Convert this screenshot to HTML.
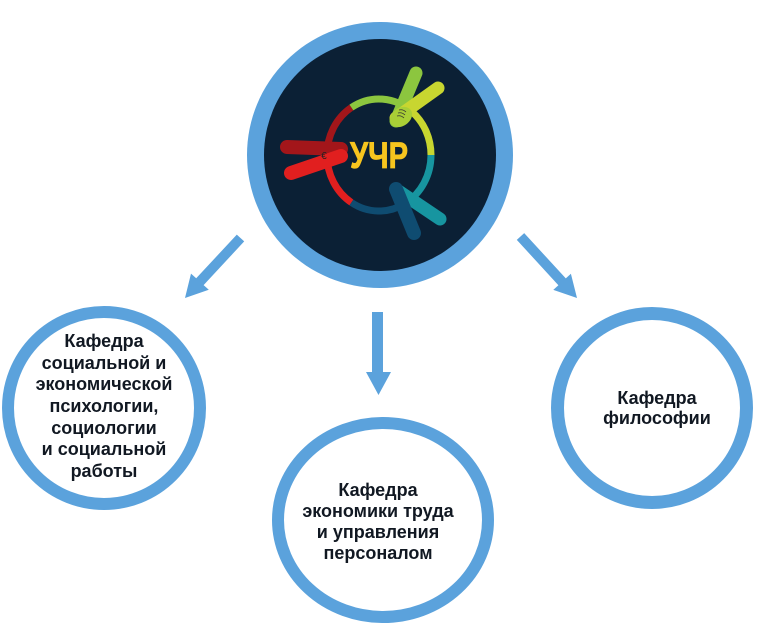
<!DOCTYPE html>
<html>
<head>
<meta charset="utf-8">
<style>
  html, body { margin: 0; padding: 0; background: #ffffff; }
  svg { display: block; }
  .t { font-family: "Liberation Sans", "Noto Sans CJK SC", sans-serif; font-weight: bold; font-size: 18px; fill: #111822; }
</style>
</head>
<body>
<svg width="760" height="625" viewBox="0 0 760 625" xmlns="http://www.w3.org/2000/svg">
  <rect width="760" height="625" fill="#ffffff"/>

  <!-- top circle -->
  <circle cx="380" cy="155" r="133" fill="#5ba2dc"/>
  <circle cx="380" cy="155" r="116" fill="#0b2035"/>

  <!-- logo ring segments -->
  <g fill="none" stroke-width="7" stroke-linecap="butt">
    <path d="M351.4,107.5 A52,56 0 0 0 327,155" stroke="#a3161a"/>
    <path d="M327,155 A52,56 0 0 0 351.4,202.5" stroke="#e11f1f"/>
    <path d="M351.4,202.5 A52,56 0 0 0 405,203.5" stroke="#0f4c71"/>
    <path d="M405,203.5 A52,56 0 0 0 431,155" stroke="#1795a0"/>
    <path d="M431,155 A52,56 0 0 0 412.4,112.1" stroke="#c8d630"/>
    <path d="M412.4,112.1 A52,56 0 0 0 351.4,107.5" stroke="#8cc63f"/>
  </g>

  <!-- figures -->
  <g stroke-linecap="round" fill="none">
    <!-- green/yellow figure -->
    <line x1="416" y1="73" x2="396" y2="121" stroke="#8cc63f" stroke-width="13"/>
    <line x1="438" y1="88" x2="396" y2="118" stroke="#c8d630" stroke-width="13"/>
    <!-- red figure -->
    <line x1="287" y1="147" x2="341" y2="149" stroke="#a3161a" stroke-width="14"/>
    <line x1="291" y1="173" x2="341" y2="156" stroke="#e11f1f" stroke-width="14"/>
    <!-- teal/navy figure -->
    <line x1="397" y1="190" x2="440" y2="219" stroke="#1795a0" stroke-width="13"/>
    <line x1="396" y1="189" x2="414" y2="233" stroke="#0f4c71" stroke-width="14"/>
  </g>
  <ellipse cx="401" cy="117" rx="12" ry="9" transform="rotate(-35 401 117)" fill="#a9cf36"/>
  <g stroke="#333" stroke-width="0.8" fill="none">
    <path d="M399,110 q4,-1 7,2"/>
    <path d="M398,113 q4,-1 7,2"/>
    <path d="M397,116 q4,-1 7,2"/>
  </g>
  <text x="324" y="159" font-family="Liberation Sans, sans-serif" font-size="10" fill="#222" text-anchor="middle">€</text>

  <text x="379" y="168" font-family="Liberation Sans, sans-serif" font-weight="bold" font-size="37" fill="#f7c51e" stroke="#f7c51e" stroke-width="0.8" text-anchor="middle" textLength="58" lengthAdjust="spacingAndGlyphs">УЧР</text>

  <!-- arrows -->
  <polygon points="236.8,234.6 244.2,241.4 203.6,285.1 208.8,289.8 185,298 191.0,273.6 196.2,278.3" fill="#5ba2dc"/>
  <polygon points="524.2,233.1 565.8,278.4 570.9,273.7 577,298 553.3,289.9 558.4,285.2 516.8,239.9" fill="#5ba2dc"/>
  <polygon points="372,312 383,312 383,372 391,372 378.5,395 366,372 372,372" fill="#5ba2dc"/>

  <!-- left circle -->
  <circle cx="104" cy="408" r="96" fill="#ffffff" stroke="#5ba2dc" stroke-width="12"/>
  <g class="t" text-anchor="middle">
    <text x="104" y="347">Кафедра</text>
    <text x="104" y="369">социальной и</text>
    <text x="104" y="390">экономической</text>
    <text x="104" y="412">психологии,</text>
    <text x="104" y="434">социологии</text>
    <text x="104" y="455">и социальной</text>
    <text x="104" y="477">работы</text>
  </g>

  <!-- bottom circle -->
  <ellipse cx="383" cy="520" rx="105" ry="97" fill="#ffffff" stroke="#5ba2dc" stroke-width="12"/>
  <g class="t" text-anchor="middle">
    <text x="378" y="496">Кафедра</text>
    <text x="378" y="517">экономики труда</text>
    <text x="378" y="538">и управления</text>
    <text x="378" y="559">персоналом</text>
  </g>

  <!-- right circle -->
  <circle cx="652" cy="408" r="94.5" fill="#ffffff" stroke="#5ba2dc" stroke-width="13"/>
  <g class="t" text-anchor="middle">
    <text x="657" y="404">Кафедра</text>
    <text x="657" y="424">философии</text>
  </g>
</svg>
</body>
</html>
